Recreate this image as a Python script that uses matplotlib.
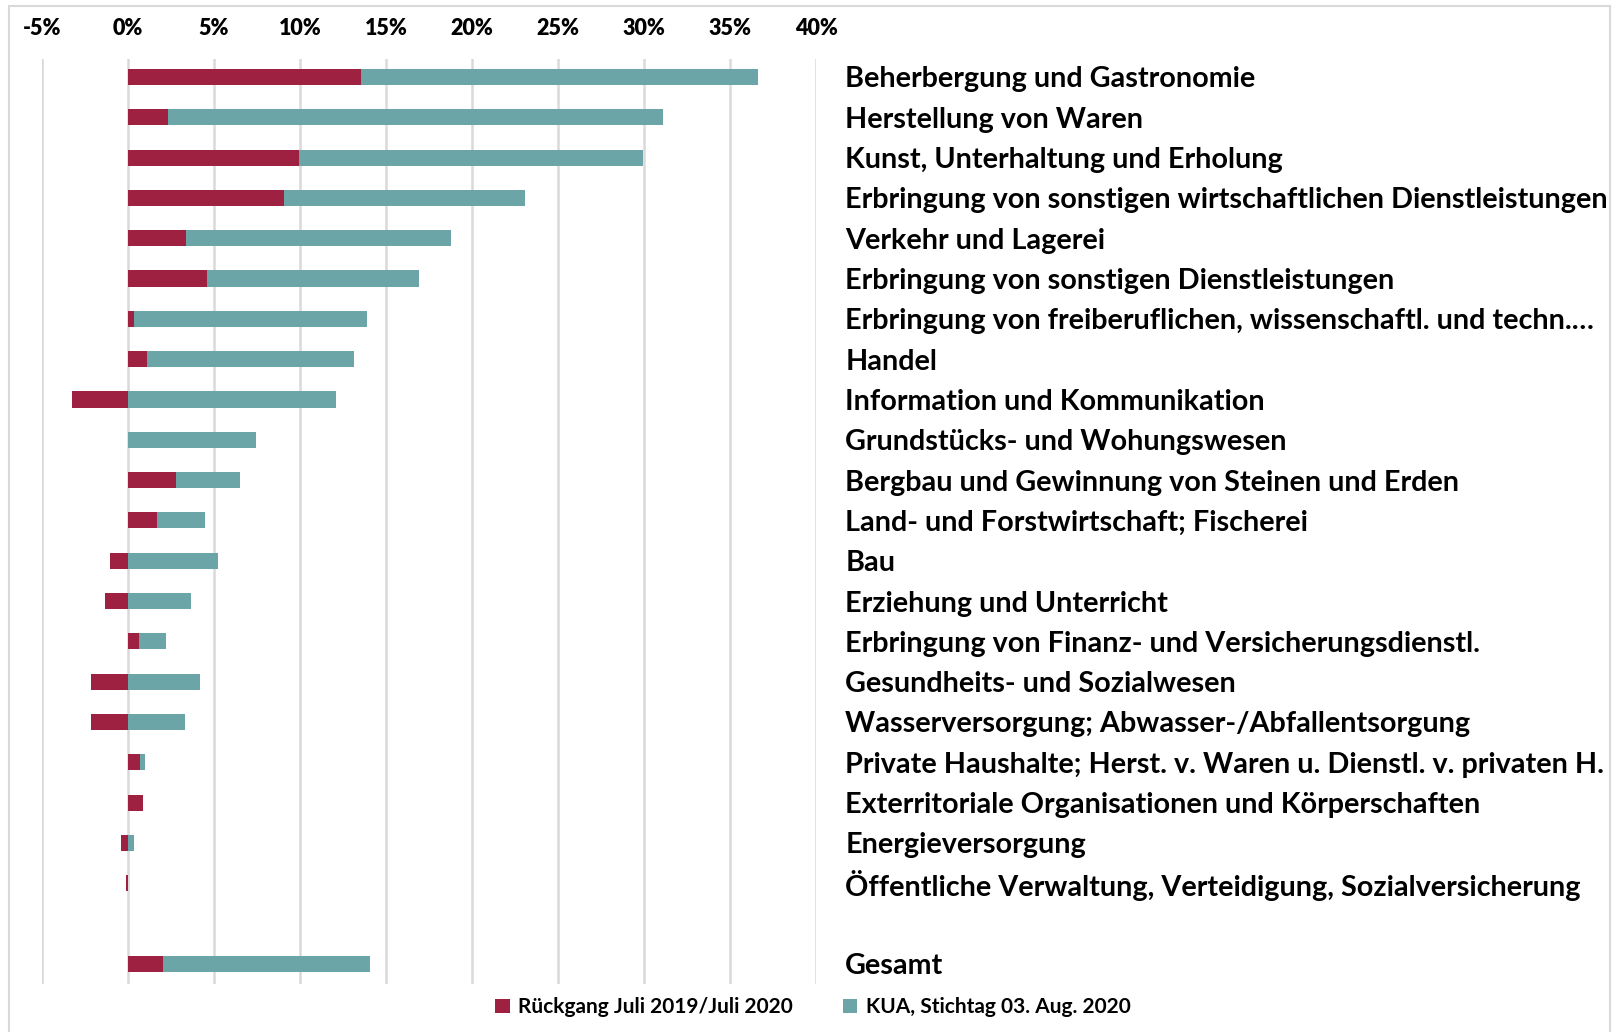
import numpy as np
import matplotlib.pyplot as plt
from matplotlib.patches import Rectangle

# DATA
branchen = [
    "Beherbergung und Gastronomie",
    "Herstellung von Waren",
    "Kunst, Unterhaltung und Erholung",
    "Erbringung von sonstigen wirtschaftlichen Dienstleistungen",
    "Verkehr und Lagerei",
    "Erbringung von sonstigen Dienstleistungen",
    "Erbringung von freiberuflichen, wissenschaftl. und techn.…",
    "Handel",
    "Information und Kommunikation",
    "Grundstücks- und Wohungswesen",
    "Bergbau und Gewinnung von Steinen und Erden",
    "Land- und Forstwirtschaft; Fischerei",
    "Bau",
    "Erziehung und Unterricht",
    "Erbringung von Finanz- und Versicherungsdienstl.",
    "Gesundheits- und Sozialwesen",
    "Wasserversorgung; Abwasser-/Abfallentsorgung",
    "Private Haushalte; Herst. v. Waren u. Dienstl. v. privaten H.",
    "Exterritoriale Organisationen und Körperschaften",
    "Energieversorgung",
    "Öffentliche Verwaltung, Verteidigung, Sozialversicherung",
    "",
    "Gesamt",
]
# Rückgang Juli 2019/Juli 2020 (in %)
rueckgang = [13.55, 2.32, 9.93, 9.07, 3.39, 4.6, 0.38, 1.12, -3.24, 0.0, 2.78, 1.70,
             -1.02, -1.35, 0.65, -2.14, -2.14, 0.71, 0.9, -0.37, -0.1, 0.0, 2.04]
# KUA, Stichtag 03. Aug. 2020 (in %)
kua = [23.05, 28.8, 20.0, 14.0, 15.4, 12.3, 13.5, 12.0, 12.08, 7.47, 3.76, 2.79,
       5.23, 3.66, 1.55, 4.19, 3.3, 0.31, 0.0, 0.35, 0.0, 0.0, 12.06]
ticks = [-5, 0, 5, 10, 15, 20, 25, 30, 35, 40]

ROT = "#9E2142"
TEAL = "#6CA5A8"

plt.rcParams['font.family'] = ['Lato', 'DejaVu Sans']
plt.rcParams['font.weight'] = 'bold'

fig = plt.figure(figsize=(16.16, 10.32), dpi=100)
ax = fig.add_axes([0.0258, 0.0465, 0.4792, 0.8965])

y = np.arange(len(branchen))
rueck = np.array(rueckgang)
links = np.where(rueck > 0, rueck, 0)

ax.barh(y, rueck, height=0.4, color=ROT, label="Rückgang Juli 2019/Juli 2020", zorder=3)
ax.barh(y, kua, left=links, height=0.4, color=TEAL, label="KUA, Stichtag 03. Aug. 2020", zorder=3)

ax.set_xlim(-5, 40)
ax.set_ylim(len(branchen) - 0.5, -0.45)
ax.xaxis.tick_top()
ax.set_xticks(ticks)
ax.set_xticklabels([f"{t}%" for t in ticks])
ax.tick_params(axis='x', length=0, pad=14, labelsize=15.5)
for t in ax.xaxis.get_major_ticks():
    t.label1.set_fontweight('heavy')
    t.label2.set_fontweight('heavy')
ax.grid(axis='x', color='#D9D9D9', linewidth=1.8, zorder=0)

ax.yaxis.tick_right()
ax.set_yticks(y)
ax.set_yticklabels(branchen)
ax.tick_params(axis='y', length=0, pad=21, labelsize=20.7)
for t in ax.yaxis.get_major_ticks():
    t.label1.set_fontweight('bold')
    t.label2.set_fontweight('bold')

for s in ax.spines.values():
    s.set_visible(False)

fig.legend(loc='lower center', bbox_to_anchor=(0.503, -0.004), ncol=2, frameon=False,
           handlelength=0.7, handleheight=0.7, columnspacing=2.4,
           handletextpad=0.4, prop={'weight': 'bold', 'size': 15})

fig.patches.append(Rectangle((0.0056, -0.01), 0.9906, 1.004, transform=fig.transFigure,
                             fill=False, edgecolor='#D9D9D9', linewidth=1.5))

plt.savefig("out.png", dpi=100)
